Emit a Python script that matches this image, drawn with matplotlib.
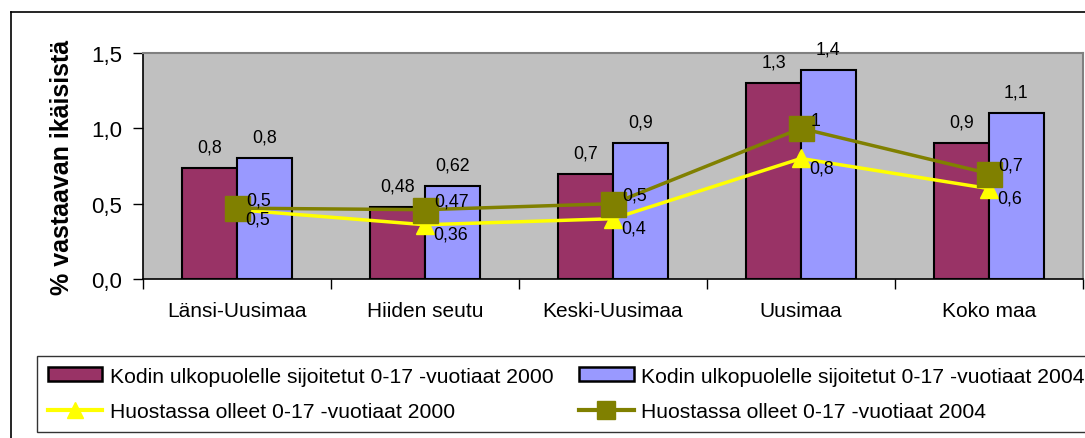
import numpy as np
import matplotlib
matplotlib.use('Agg')
import matplotlib.pyplot as plt
from matplotlib.lines import Line2D
from matplotlib.patches import Patch

plt.rcParams['font.family'] = ['Liberation Sans', 'DejaVu Sans']

# Data
categories = ['Länsi-Uusimaa', 'Hiiden seutu', 'Keski-Uusimaa', 'Uusimaa', 'Koko maa']
sijoitetut_2000 = [0.74, 0.48, 0.70, 1.30, 0.90]
sijoitetut_2004 = [0.80, 0.62, 0.90, 1.39, 1.10]
huostassa_2000 = [0.46, 0.36, 0.40, 0.80, 0.60]
huostassa_2004 = [0.47, 0.46, 0.50, 1.00, 0.70]

lbl_sij_2000 = ['0,8', '0,48', '0,7', '1,3', '0,9']
lbl_sij_2004 = ['0,8', '0,62', '0,9', '1,4', '1,1']
lbl_huo_2000 = ['0,5', '0,36', '0,4', '0,8', '0,6']
lbl_huo_2004 = ['0,5', '0,47', '0,5', '1', '0,7']

y_ticks = [0.0, 0.5, 1.0, 1.5]
y_tick_labels = ['0,0', '0,5', '1,0', '1,5']

legend_labels = ['Kodin ulkopuolelle sijoitetut 0-17 -vuotiaat 2000',
                 'Kodin ulkopuolelle sijoitetut 0-17 -vuotiaat 2004',
                 'Huostassa olleet 0-17 -vuotiaat 2000',
                 'Huostassa olleet 0-17 -vuotiaat 2004']

c_2000 = '#993366'
c_2004 = '#9999FF'
c_yel = '#FFFF00'
c_olive = '#808000'

W, H = 1085, 439
fig = plt.figure(figsize=(W / 100, H / 100), dpi=100)
ax = fig.add_axes([143 / W, 1 - 280 / H, (1083 - 143) / W, (280 - 54) / H])
ax.set_facecolor('#C0C0C0')

x = np.arange(len(categories))
bw = 0.29
ax.bar(x - bw / 2, sijoitetut_2000, bw, color=c_2000, edgecolor='black', linewidth=1.5, zorder=2)
ax.bar(x + bw / 2, sijoitetut_2004, bw, color=c_2004, edgecolor='black', linewidth=1.5, zorder=2)

ax.plot(x, huostassa_2000, color=c_yel, linewidth=2.5, marker='^', markersize=13,
        markeredgecolor=c_yel, zorder=3)
ax.plot(x, huostassa_2004, color=c_olive, linewidth=2.5, marker='s', markersize=18,
        markeredgecolor=c_olive, zorder=4)

# data labels
fs_lab = 12.8
for i in range(len(categories)):
    ax.annotate(lbl_sij_2000[i], (x[i] - bw / 2, sijoitetut_2000[i]), xytext=(0, 9),
                textcoords='offset points', ha='center', va='bottom', fontsize=fs_lab, annotation_clip=False, zorder=5)
    ax.annotate(lbl_sij_2004[i], (x[i] + bw / 2, sijoitetut_2004[i]), xytext=(0, 9),
                textcoords='offset points', ha='center', va='bottom', fontsize=fs_lab, annotation_clip=False, zorder=5)
    ax.annotate(lbl_huo_2004[i], (x[i], huostassa_2004[i]), xytext=(7, 6),
                textcoords='offset points', ha='left', va='center', fontsize=fs_lab, zorder=5)
    ax.annotate(lbl_huo_2000[i], (x[i], huostassa_2000[i]), xytext=(6, -7),
                textcoords='offset points', ha='left', va='center', fontsize=fs_lab, zorder=5)

ax.set_xlim(-0.5, len(categories) - 0.5)
ax.set_ylim(0, 1.5)
ax.set_yticks(y_ticks)
ax.set_yticklabels(y_tick_labels, fontsize=16)
ax.set_xticks(x)
ax.set_xticklabels(categories, fontsize=15)
ax.set_xticks(np.arange(-0.5, len(categories)), minor=True)
ax.tick_params(axis='x', which='major', length=0, pad=16)
ax.tick_params(axis='x', which='minor', length=7, direction='out', width=1)
ax.tick_params(axis='y', length=7, direction='out', width=1, pad=8)
ax.set_ylabel('% vastaavan ikäisistä', fontsize=18, fontweight='bold', labelpad=12)

for s in ['left', 'bottom']:
    ax.spines[s].set_color('black')
    ax.spines[s].set_linewidth(1.2)
for s in ['top', 'right']:
    ax.spines[s].set_color('#808080')
    ax.spines[s].set_linewidth(1.5)

# outer chart border (cut off by the image edge on right and bottom)
fig.add_artist(Line2D([11 / W, 11 / W], [0, 1 - 13 / H], transform=fig.transFigure, color='black', linewidth=1.2))
fig.add_artist(Line2D([11 / W, 1], [1 - 13 / H, 1 - 13 / H], transform=fig.transFigure, color='black', linewidth=1.2))

# legend with proxy handles (smaller square than in the plot)
h_b1 = Patch(facecolor=c_2000, edgecolor='black', linewidth=1.8)
h_b2 = Patch(facecolor=c_2004, edgecolor='black', linewidth=1.8)
h_l1 = Line2D([], [], color=c_yel, linewidth=3, marker='^', markersize=12, markeredgecolor=c_yel)
h_l2 = Line2D([], [], color=c_olive, linewidth=3, marker='s', markersize=13, markeredgecolor=c_olive)
handles = [h_b1, h_l1, h_b2, h_l2]
labels = [legend_labels[0], legend_labels[2], legend_labels[1], legend_labels[3]]
leg = fig.legend(handles, labels, ncol=2, loc='upper left', bbox_to_anchor=(37 / W, 1 - 357 / H),
                 borderaxespad=0, fontsize=15.2, frameon=True, fancybox=False, handlelength=2.6,
                 handleheight=0.6, handletextpad=0.35, columnspacing=1.2, labelspacing=0.8,
                 borderpad=0.5)
leg.get_frame().set_edgecolor('black')
leg.get_frame().set_linewidth(1.0)

fig.savefig('out.png', dpi=100)
